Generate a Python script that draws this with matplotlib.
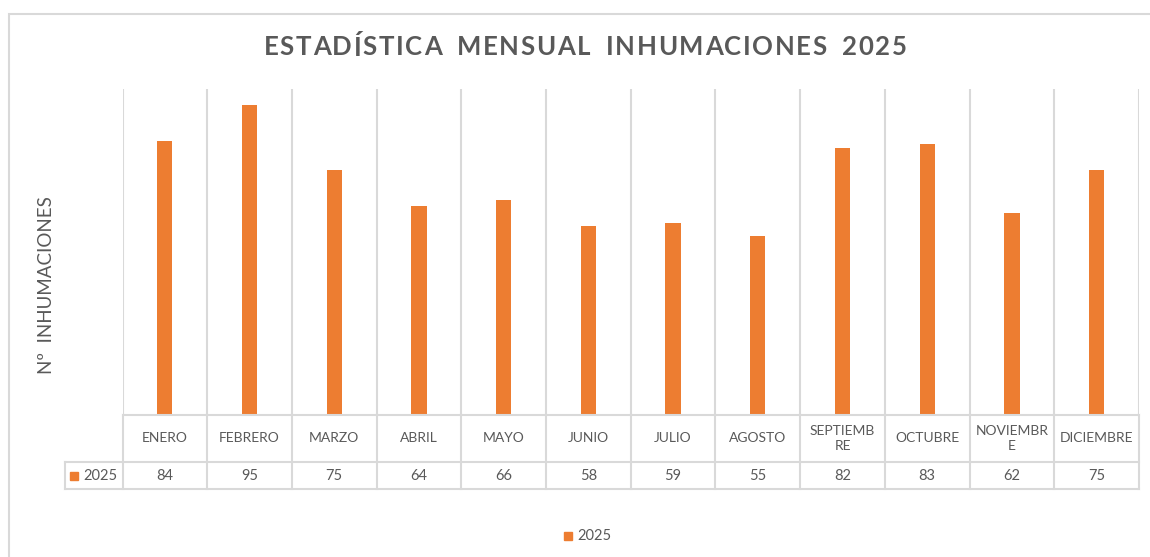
# monthly burials chart, Excel-style with data table under the axis

import matplotlib
matplotlib.use('Agg')
import numpy as np
import matplotlib.pyplot as plt
from matplotlib.patches import Rectangle
from matplotlib.lines import Line2D
from matplotlib.transforms import blended_transform_factory

months = ['ENERO', 'FEBRERO', 'MARZO', 'ABRIL', 'MAYO', 'JUNIO', 'JULIO',
          'AGOSTO', 'SEPTIEMBRE', 'OCTUBRE', 'NOVIEMBRE', 'DICIEMBRE']
tick_labels = ['ENERO', 'FEBRERO', 'MARZO', 'ABRIL', 'MAYO', 'JUNIO', 'JULIO',
               'AGOSTO', 'SEPTIEMB\nRE', 'OCTUBRE', 'NOVIEMBR\nE', 'DICIEMBRE']
values_2025 = [84, 95, 75, 64, 66, 58, 59, 55, 82, 83, 62, 75]
series_name = '2025'

title = 'ESTADÍSTICA MENSUAL INHUMACIONES 2025'
ylabel = 'Nº  INHUMACIONES'

orange = '#ED7D31'
grey_line = '#D9D9D9'
txt = '#595959'
font = 'Lato'

W, H = 1150, 557
fig = plt.figure(figsize=(W / 100, H / 100), dpi=100)

def fy(py):
    # pixel row (from top) -> figure fraction
    return 1 - py / H

def fx(px):
    return px / W

# outer chart border (runs off the right and bottom of the picture)
fig.patches.append(Rectangle((fx(9), fy(600)), fx(1200) - fx(9), fy(14) - fy(600),
                             transform=fig.transFigure, fill=False,
                             edgecolor=grey_line, linewidth=1.5))

left, right, top, bottom = 122.5, 1139, 89, 415
ax = fig.add_axes([fx(left), fy(bottom), fx(right) - fx(left), fy(top) - fy(bottom)])

x = np.arange(len(months))
ax.bar(x + 0.5, values_2025, width=0.18, color=orange, zorder=3)
ax.set_xlim(0, len(months))
ax.set_ylim(0, 100)
ax.set_xticks([])
ax.set_yticks([])
for s in ax.spines.values():
    s.set_visible(False)
for b in range(len(months) + 1):
    ax.axvline(b, color=grey_line, linewidth=1.5, zorder=1)

# data table below the plot
trans = blended_transform_factory(ax.transData, fig.transFigure)
y_head_bot, y_row_bot = 462, 489
fig.add_artist(Line2D([0, len(months)], [fy(bottom), fy(bottom)],
                      transform=trans, color=grey_line, linewidth=1.5))
for yy in (y_head_bot, y_row_bot):
    fig.add_artist(Line2D([fx(65), fx(right)], [fy(yy), fy(yy)],
                          transform=fig.transFigure, color=grey_line, linewidth=1.5))
for b in range(len(months) + 1):
    fig.add_artist(Line2D([b, b], [fy(bottom), fy(y_row_bot)],
                          transform=trans, color=grey_line, linewidth=1.5))
fig.add_artist(Line2D([fx(65), fx(65)], [fy(y_head_bot), fy(y_row_bot)],
                      transform=fig.transFigure, color=grey_line, linewidth=1.5))

for i, (lab, v) in enumerate(zip(tick_labels, values_2025)):
    fig.text(i + 0.5, fy((bottom + y_head_bot) / 2), lab, transform=trans,
             ha='center', va='center', fontsize=10, color=txt, family=font,
             linespacing=1.25)
    fig.text(i + 0.5, fy((y_head_bot + y_row_bot) / 2), str(v), transform=trans,
             ha='center', va='center', fontsize=10.5, color=txt, family=font)

# legend key inside table
fig.patches.append(Rectangle((fx(70), fy(480)), fx(8), fy(472) - fy(480),
                             transform=fig.transFigure, color=orange))
fig.text(fx(83), fy(476), series_name, ha='left', va='center', fontsize=10.5,
         color=txt, family=font)

# bottom legend
fig.patches.append(Rectangle((fx(564), fy(540)), fx(8), fy(532) - fy(540),
                             transform=fig.transFigure, color=orange))
fig.text(fx(577), fy(536), series_name, ha='left', va='center', fontsize=10.5,
         color=txt, family=font)

# title with extra letter spacing (Excel-like tracking), laid out char by char
renderer = fig.canvas.get_renderer()
tracking = 1.6  # px between letters
space_w = 12    # px for a word gap
title_kw = dict(fontsize=18.5, fontweight='bold', color=txt, family=font, va='center')
widths = []
for ch in title:
    if ch == ' ':
        widths.append(space_w)
        continue
    t = fig.text(0, 0, ch, **title_kw)
    widths.append(t.get_window_extent(renderer).width)
    t.remove()
total = sum(widths) + tracking * (len(title) - 1)
xpos = 585 - total / 2
for ch, w in zip(title, widths):
    if ch != ' ':
        fig.text(fx(xpos), fy(47), ch, ha='left', **title_kw)
    xpos += w + tracking

fig.text(fx(47), fy(285), ylabel, ha='center', va='center', rotation=90,
         fontsize=13.5, color=txt, family=font)

fig.savefig('out.png', dpi=100, facecolor='white')
